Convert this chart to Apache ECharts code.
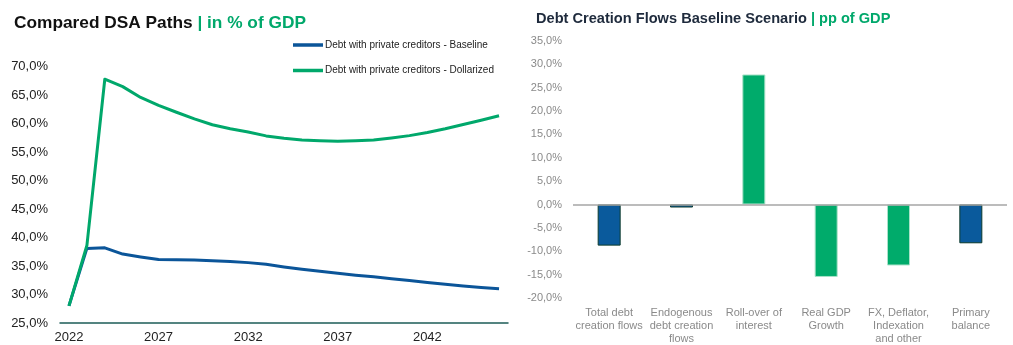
<!DOCTYPE html>
<html>
<head>
<meta charset="utf-8">
<script src="https://cdn.jsdelivr.net/npm/echarts@6/dist/echarts.min.js"></script>
<style>
html,body{margin:0;padding:0;background:#fff;}
#chart{width:1013px;height:345px;}
</style>
</head>
<body>
<div id="chart"></div>
<script>
// ---- Left chart data ----
const years = ['2022','2023','2024','2025','2026','2027','2028','2029','2030','2031','2032','2033','2034','2035','2036','2037','2038','2039','2040','2041','2042','2043','2044','2045','2046'];
const baseline = [28.0,38.1,38.2,37.1,36.6,36.15,36.1,36.05,35.95,35.8,35.6,35.3,34.85,34.45,34.1,33.75,33.4,33.1,32.75,32.45,32.1,31.8,31.5,31.25,31.0];
const dollarized = [28.0,38.6,67.8,66.5,64.6,63.2,62.0,60.85,59.8,59.1,58.55,57.85,57.45,57.15,57.0,56.9,57.0,57.15,57.5,57.9,58.45,59.1,59.85,60.6,61.4];
const leftSeriesNames = ['Debt with private creditors - Baseline','Debt with private creditors - Dollarized'];

// ---- Right chart data ----
const flowCategories = ['Total debt\ncreation flows','Endogenous\ndebt creation\nflows','Roll-over of\ninterest','Real GDP\nGrowth','FX, Deflator,\nIndexation\nand other','Primary\nbalance'];
const flowValues = [-8.8,-0.65,27.8,-15.5,-13.05,-8.3];
const flowKinds = ['blue','blue','green','green','green','blue'];

const BLUE = '#0b5599';
const GREEN = '#00a86b';
const fmt = v => v.toFixed(1).replace('.', ',') + '%';

const chart = echarts.init(document.getElementById('chart'), null, {renderer:'canvas'});
chart.setOption({
  animation:false,
  textStyle:{fontFamily:'Liberation Sans, Arial, sans-serif'},
  title:[
    {left:14, top:15, padding:0,
     text:'{a|Compared DSA Paths }{b|| in % of GDP}',
     textStyle:{rich:{
       a:{fontSize:17.3, fontWeight:'bold', color:'#111', fontFamily:'Liberation Sans'},
       b:{fontSize:17.3, fontWeight:'bold', color:GREEN, fontFamily:'Liberation Sans'}}}},
    {left:536, top:11, padding:0,
     text:'{a|Debt Creation Flows Baseline Scenario }{b|| pp of GDP}',
     textStyle:{rich:{
       a:{fontSize:14.6, fontWeight:'bold', color:'#1e2a3c', fontFamily:'Liberation Sans'},
       b:{fontSize:14.6, fontWeight:'bold', color:GREEN, fontFamily:'Liberation Sans'}}}}
  ],
  legend:{
    left:293, top:39, orient:'vertical', itemGap:13.5, itemWidth:30, itemHeight:3.5,
    icon:'rect', padding:0,
    textStyle:{fontSize:10, color:'#222', padding:[0,0,0,-3], lineHeight:12},
    data:leftSeriesNames
  },
  grid:[
    {left:60, right:505, top:66.7, bottom:22, containLabel:false},
    {left:573, right:6, top:40.8, bottom:45.7, containLabel:false}
  ],
  xAxis:[
    {type:'category', gridIndex:0, data:years, boundaryGap:true,
     axisLine:{lineStyle:{color:'#1d5c57', width:1.5}},
     axisTick:{show:false},
     axisLabel:{interval:4, fontSize:13, color:'#222', margin:8}},
    {type:'category', gridIndex:1, data:flowCategories,
     axisLine:{show:false, onZero:false}, axisTick:{show:false},
     axisLabel:{interval:0, fontSize:11, color:'#8a8a8a', lineHeight:13, margin:8}}
  ],
  yAxis:[
    {type:'value', gridIndex:0, min:25, max:70, interval:5,
     splitLine:{show:false}, axisLine:{show:false}, axisTick:{show:false},
     axisLabel:{formatter:fmt, fontSize:13, color:'#222', margin:12}},
    {type:'value', gridIndex:1, min:-20, max:35, interval:5,
     splitLine:{show:false}, axisLine:{show:false}, axisTick:{show:false},
     axisLabel:{formatter:fmt, fontSize:11, color:'#8a8a8a', margin:11}}
  ],
  series:[
    {name:leftSeriesNames[0], type:'line', xAxisIndex:0, yAxisIndex:0, data:baseline,
     symbol:'none', smooth:false, lineStyle:{color:BLUE, width:3, join:'round'}, itemStyle:{color:BLUE}},
    {name:leftSeriesNames[1], type:'line', xAxisIndex:0, yAxisIndex:0, data:dollarized,
     symbol:'none', smooth:false, lineStyle:{color:GREEN, width:3, join:'round'}, itemStyle:{color:GREEN}},
    {name:'flows', type:'bar', xAxisIndex:1, yAxisIndex:1, barWidth:23,
     data:flowValues.map((v,i)=>({value:v, itemStyle: flowKinds[i]==='blue'
       ? {color:'#0a5a9c', borderColor:'#0d3b2c', borderWidth:1}
       : {color:'#00ab6b', borderColor:'#a9e2c9', borderWidth:1}})),
     markLine:{silent:true, symbol:'none', label:{show:false},
       lineStyle:{color:'#a6a6a6', width:1.5, type:'solid'},
       data:[{yAxis:0}]},
     z:2}
  ]
});
</script>
</body>
</html>
